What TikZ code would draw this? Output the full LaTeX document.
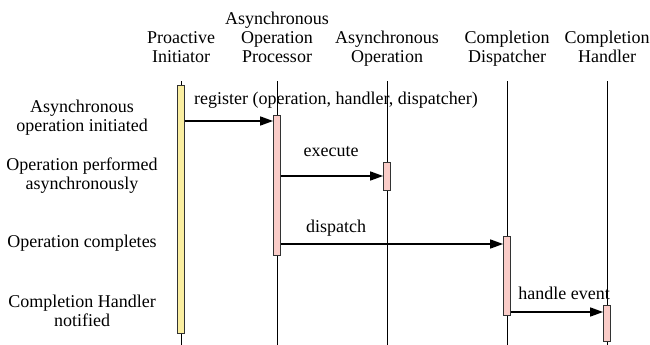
\documentclass[tikz,border=0pt]{standalone}
\usepackage{fontspec}
\setmainfont{Liberation Serif}
\usepackage{xcolor}
\definecolor{bary}{RGB}{250, 238, 160}
\definecolor{barp}{RGB}{250, 204, 200}
\usetikzlibrary{arrows.meta,positioning}
\tikzset{
	lifeline/.style={draw=black, line width=0.8pt},
	actbar/.style={
			draw=black!80, line width=0.8pt, fill=#1,
			minimum width=7pt, inner sep=0pt, anchor=north
		},
	msg/.style={line width=1.6pt, -{Triangle[length=13pt,width=9pt]}}
}

\begin{document}
\begin{tikzpicture}[x=1pt,y=-1pt,font=\fontsize{18}{19}\selectfont]
			\tikzset{
				hdr/.style={align=center, anchor=south, inner sep=0pt},
				phase/.style={align=center, inner sep=0pt},
				msglabel/.style={inner sep=0pt}
			}
			\useasboundingbox (0,0) rectangle (650,345);
			% headers
			\node[hdr] (hinit) at (181,68) {Proactive\\Initiator\strut};
			\node[hdr] (haop) at (277,68) {Asynchronous\\Operation\\Processor\strut};
			\node[hdr] (hop) at (387,68) {Asynchronous\\Operation\strut};
			\node[hdr] (hdisp) at (507,68) {Completion\\Dispatcher\strut};
			\node[hdr] (hhand) at (607,68) {Completion\\Handler\strut};
			% lifelines
			\foreach \n/\x in {init/181,aop/277,op/387,disp/507,hand/607} {
				\coordinate (t\n) at (\x,81);
				\coordinate (b\n) at (\x,345);
				\draw[lifeline] (t\n) -- (b\n);
			}
			% activation bars
			\node[actbar=bary, minimum height=248pt] (init) at (tinit |- 0,85) {};
			\node[actbar=barp, minimum height=140pt] (aop) at (taop |- 0,115) {};
			\node[actbar=barp, minimum height=28pt] (op) at (top |- 0,162) {};
			\node[actbar=barp, minimum height=79pt] (disp) at (tdisp |- 0,236) {};
			\node[actbar=barp, minimum height=36pt] (hand) at (thand |- 0,305) {};
			% messages
			\coordinate (m1) at (0,121);
			\coordinate (m2) at (0,176);
			\coordinate (m3) at (0,244);
			\coordinate (m4) at (0,312);
			\draw[msg] (init.east |- m1) -- (aop.west |- m1);
			\draw[msg] (aop.east |- m2) -- (op.west |- m2);
			\draw[msg] (aop.east |- m3) -- (disp.west |- m3);
			\draw[msg] (disp.east |- m4) -- (hand.west |- m4);
			\node[msglabel] (lreg) at (336,100) {register (operation, handler, dispatcher)};
			\node[msglabel] (lexe) at (331,152) {execute};
			\node[msglabel] (ldis) at (336,228) {dispatch};
			\node[msglabel] (lhan) at (564,293) {handle event};
			% phases
			\node[phase] (p1) at (82,118) {Asynchronous\\operation initiated};
			\node[phase] (p2) at (82,176) {Operation performed\\asynchronously};
			\node[phase] (p3) at (82,243) {Operation completes};
			\node[phase] (p4) at (82,311) {Completion Handler\\notified};
		\end{tikzpicture}
\end{document}
